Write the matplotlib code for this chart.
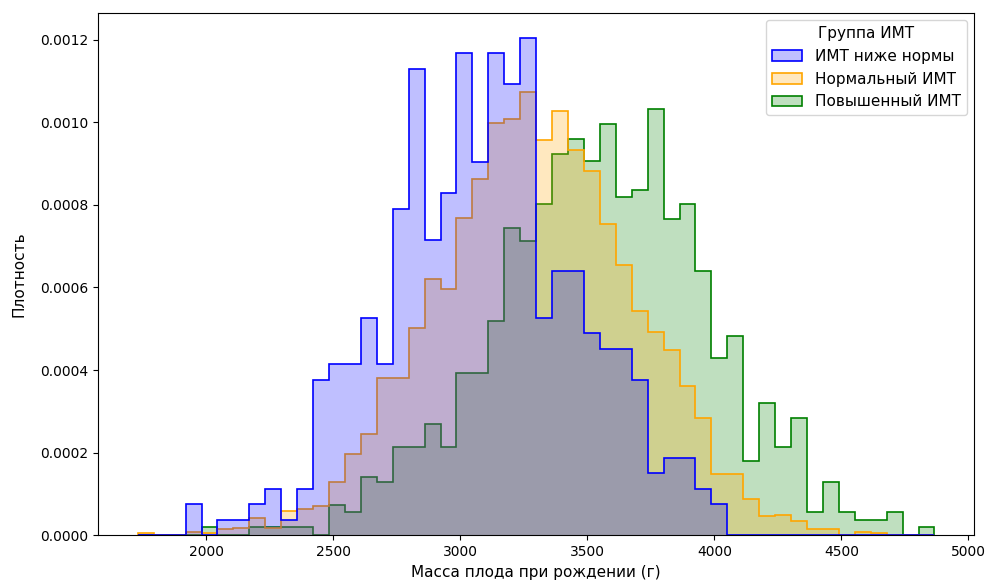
import numpy as np
import matplotlib
matplotlib.use("Agg")
import matplotlib.pyplot as plt
from matplotlib.colors import to_rgba
from matplotlib.patches import Patch

# bin edges (common bins for all groups, 50 bins)
edge_start = 1730
bin_width = 62.72
n_bins = 50
edges = edge_start + bin_width * np.arange(n_bins + 1)

groups = ["ИМТ ниже нормы", "Нормальный ИМТ", "Повышенный ИМТ"]
colors = ["blue", "orange", "green"]

# densities, one value per bin
low_bmi = [
    0, 0, 0, 7.5e-5, 0, 3.8e-5, 3.8e-5, 7.5e-5, 1.13e-4, 3.8e-5,
    1.13e-4, 3.77e-4, 4.14e-4, 4.14e-4, 5.27e-4, 4.14e-4, 7.91e-4, 1.13e-3, 7.15e-4, 8.28e-4,
    1.167e-3, 9.04e-4, 1.167e-3, 1.093e-3, 1.205e-3, 5.27e-4, 6.40e-4, 6.40e-4, 4.90e-4, 4.52e-4,
    4.52e-4, 3.77e-4, 1.51e-4, 1.88e-4, 1.88e-4, 1.13e-4, 7.5e-5, 0, 0, 0,
    0, 0, 0, 0, 0, 0, 0, 0, 0, 0,
]
normal_bmi = [
    4.5e-6, 0, 0, 9e-6, 4.5e-6, 1.45e-5, 1.7e-5, 4.2e-5, 1.8e-5, 5.9e-5,
    6.4e-5, 7.2e-5, 1.30e-4, 1.96e-4, 2.45e-4, 3.80e-4, 3.80e-4, 5.03e-4, 6.21e-4, 5.96e-4,
    7.69e-4, 8.62e-4, 9.99e-4, 1.008e-3, 1.074e-3, 9.58e-4, 1.027e-3, 9.32e-4, 8.81e-4, 7.53e-4,
    6.54e-4, 5.43e-4, 4.92e-4, 4.48e-4, 3.62e-4, 2.84e-4, 1.48e-4, 1.48e-4, 8.8e-5, 4.7e-5,
    4.9e-5, 3.5e-5, 1.45e-5, 1.45e-5, 0, 8.7e-6, 4.5e-6, 0, 0, 0,
]
high_bmi = [
    0, 0, 0, 0, 1.9e-5, 0, 0, 1.9e-5, 1.9e-5, 1.9e-5,
    1.9e-5, 0, 7.4e-5, 5.6e-5, 1.40e-4, 1.28e-4, 2.14e-4, 2.14e-4, 2.69e-4, 2.14e-4,
    3.92e-4, 3.92e-4, 5.19e-4, 7.45e-4, 7.12e-4, 8.01e-4, 9.24e-4, 9.60e-4, 9.07e-4, 9.95e-4,
    8.18e-4, 8.37e-4, 1.031e-3, 7.66e-4, 8.02e-4, 6.40e-4, 4.29e-4, 4.83e-4, 1.79e-4, 3.21e-4,
    2.14e-4, 2.85e-4, 5.6e-5, 1.28e-4, 5.6e-5, 3.7e-5, 3.7e-5, 5.6e-5, 0, 1.9e-5,
]
series = [low_bmi, normal_bmi, high_bmi]

fig = plt.figure(figsize=(9.86, 5.82), dpi=100)
ax = fig.add_axes([0.0994, 0.0802, 0.8887, 0.898])

# last group drawn first so the first group sits on top
for vals, c in reversed(list(zip(series, colors))):
    ax.stairs(vals, edges, fill=True, facecolor=to_rgba(c, 0.25),
              edgecolor=c, linewidth=1.2)

span = edges[-1] - edges[0]
ax.set_xlim(edges[0] - 0.05 * span, edges[-1] + 0.05 * span)
ax.set_ylim(0, max(max(s) for s in series) * 1.05)

ax.set_xlabel("Масса плода при рождении (г)", fontsize=11)
ax.set_ylabel("Плотность", fontsize=11, labelpad=10)
ax.tick_params(labelsize=10)

handles = [Patch(facecolor=to_rgba(c, 0.25), edgecolor=c, linewidth=1.2) for c in colors]
ax.legend(handles, groups, title="Группа ИМТ", loc="upper right", fontsize=11, title_fontsize=11)

fig.savefig("out.png", dpi=100)
